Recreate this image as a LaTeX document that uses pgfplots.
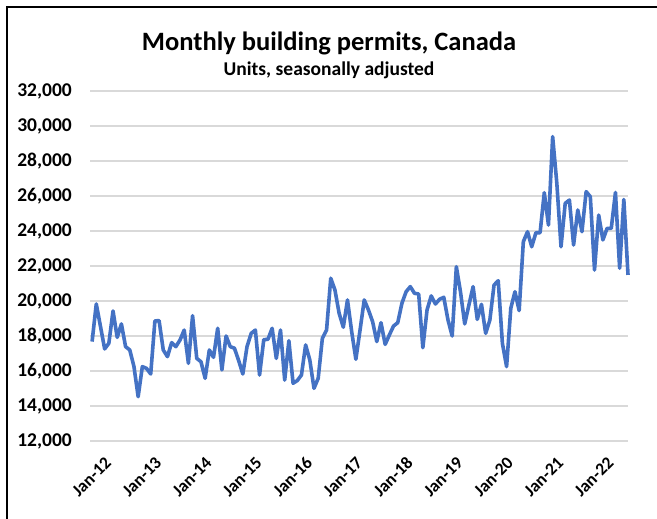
\documentclass[border=0pt]{standalone}
\usepackage{fontspec}
\setmainfont{Carlito}
\usepackage{pgfplots}
\pgfplotsset{compat=1.18}
\definecolor{lineblue}{HTML}{4472C4}
\definecolor{gridgray}{HTML}{D9D9D9}
\begin{document}
\begin{tikzpicture}[x=1bp,y=1bp]
\useasboundingbox (0,0) rectangle (657,519);
\fill[white] (0,0) rectangle (657,519);
\draw[black, line width=2.5bp] (7,0) -- (7,512) -- (657,512);
\node[font=\fontsize{26.5bp}{30bp}\selectfont\bfseries] at (329,476) {Monthly building permits, Canada};
\node[font=\fontsize{19.5bp}{22bp}\selectfont\bfseries] at (329,449) {Units, seasonally adjusted};
\begin{axis}[
  at={(90bp,78bp)}, anchor=south west, scale only axis,
  width=538bp, height=350bp,
  xmin=-0.5, xmax=128, ymin=12000, ymax=32000,
  axis line style={draw=none},
  major tick length=0pt,
  ymajorgrids, grid style={gridgray, line width=1.6bp},
  ytick={12000,14000,...,32000},
  scaled y ticks=false,
  /pgf/number format/.cd, 1000 sep={,}, assume math mode=true, /pgfplots/.cd,
  yticklabel style={font=\fontsize{19.5bp}{22bp}\selectfont\bfseries, anchor=east, inner sep=0pt, xshift=-18bp},
  xtick={0,12,...,120},
  xticklabels={Jan-12,Jan-13,Jan-14,Jan-15,Jan-16,Jan-17,Jan-18,Jan-19,Jan-20,Jan-21,Jan-22},
  xticklabel style={font=\fontsize{17.5bp}{20bp}\selectfont\bfseries, rotate=45, anchor=east, inner sep=0pt, xshift=-2bp, yshift=-25bp},
  clip=false,
]
\addplot[lineblue, line width=3.6bp, line join=round, no marks] table {
x y
0 17680
1 19830
2 18550
3 17260
4 17580
5 19430
6 17920
7 18690
8 17390
9 17200
10 16250
11 14530
12 16250
13 16150
14 15830
15 18860
16 18880
17 17200
18 16820
19 17620
20 17390
21 17770
22 18340
23 16440
24 19160
25 16720
26 16530
27 15580
28 17200
29 16780
30 18440
31 16060
32 18000
33 17390
34 17300
35 16600
36 15830
37 17390
38 18150
39 18340
40 15770
41 17790
42 17810
43 18440
44 16720
45 18340
46 15480
47 17730
48 15300
49 15450
50 15770
51 17490
52 16630
53 15010
54 15580
55 17870
56 18340
57 21300
58 20630
59 19300
60 18500
61 20060
62 18250
63 16670
64 18340
65 20060
66 19490
67 18820
68 17680
69 18760
70 17520
71 18060
72 18570
73 18760
74 19870
75 20530
76 20820
77 20440
78 20400
79 17330
80 19490
81 20290
82 19830
83 20100
84 20210
85 18920
86 18000
87 21960
88 20500
89 18690
90 19770
91 20820
92 18950
93 19810
94 18150
95 18910
96 20910
97 21160
98 17580
99 16250
100 19580
101 20530
102 19450
103 23390
104 23960
105 23100
106 23900
107 23900
108 26190
109 24340
110 29390
111 26720
112 23100
113 25580
114 25770
115 23200
116 25200
117 23960
118 26250
119 25960
120 21770
121 24910
122 23490
123 24150
124 24150
125 26200
126 21870
127 25800
128 21490
};
\end{axis}
\end{tikzpicture}
\end{document}
